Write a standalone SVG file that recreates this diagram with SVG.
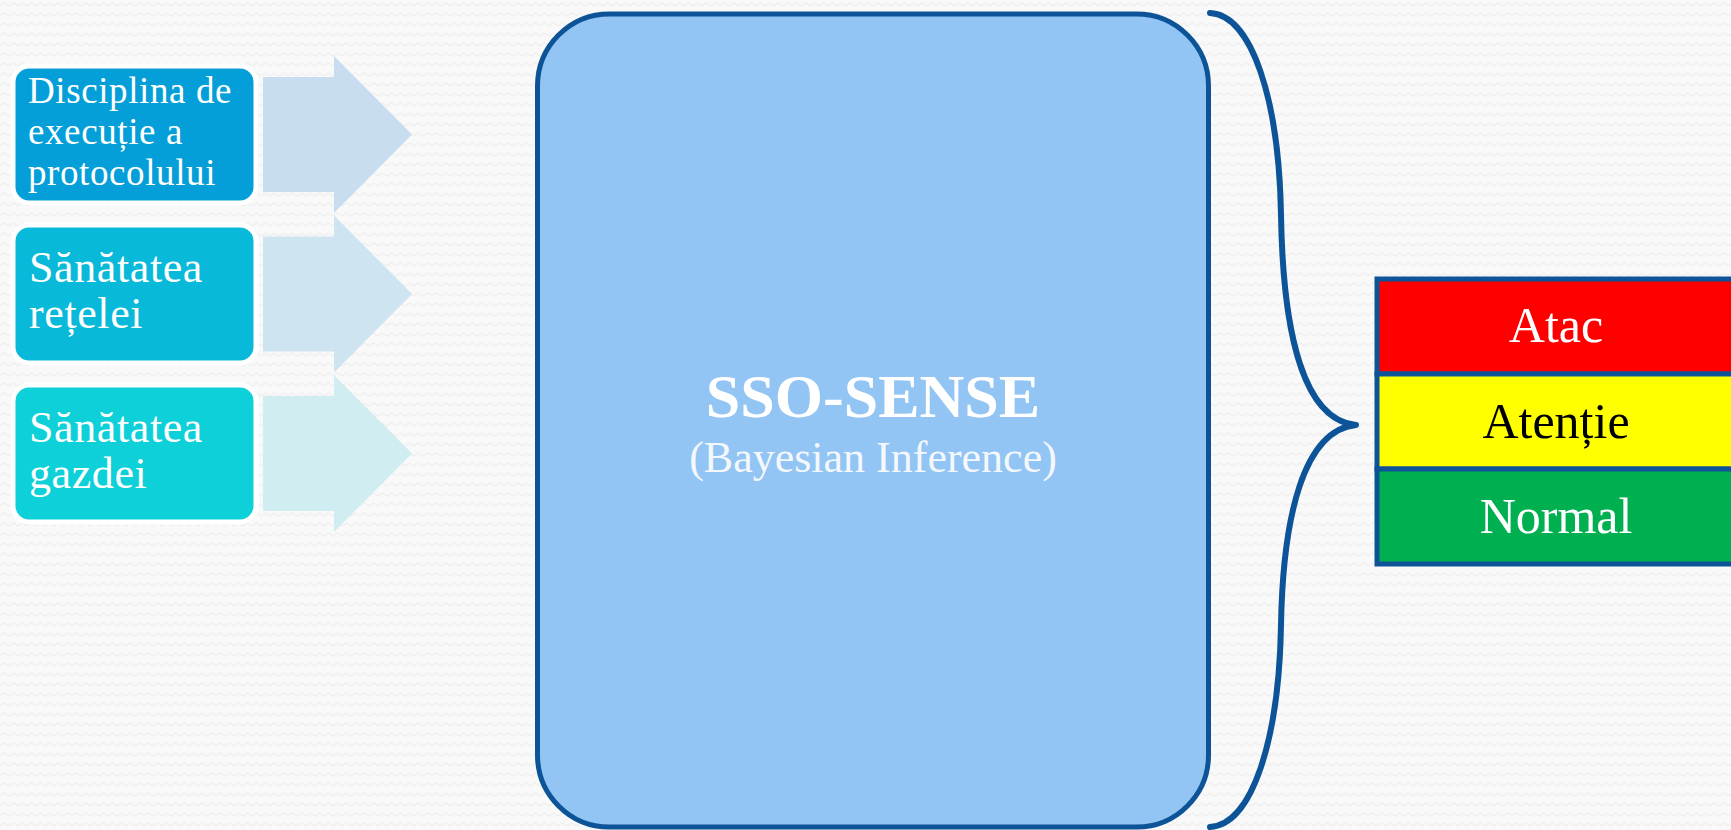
<svg xmlns="http://www.w3.org/2000/svg" width="1731" height="830" viewBox="0 0 1731 830">
  <defs>
    <pattern id="bgWave" width="9" height="10" patternUnits="userSpaceOnUse">
      <rect width="9" height="10" fill="#f9f9f9"/>
      <polyline points="0,6 4.5,3 9,6" fill="none" stroke="#efefef" stroke-width="1.2"/>
    </pattern>
    <style>
      .src { stroke: #ffffff; stroke-width: 5; }
      .srcText { font-family: "Liberation Serif", "Times New Roman", serif; fill: #ffffff; letter-spacing: 0.6px; }
      .arrow { stroke: none; }
      .core { fill: #92c4f4; stroke: #0c5497; stroke-width: 5; }
      .brace { fill: none; stroke: #0c5497; stroke-width: 6; stroke-linecap: round; stroke-linejoin: round; }
      .level { stroke: #0c5497; stroke-width: 5; }
      .levelText { font-family: "Liberation Serif", "Times New Roman", serif; font-size: 50px; text-anchor: middle; }
    </style>
  </defs>

  <rect width="1731" height="830" fill="url(#bgWave)"/>

  <!-- input arrows and the grouping brace -->
  <g id="connectors">
    <polygon class="arrow" fill="#c9ddf0" points="263,77 334,77 334,56 412,134.5 334,213 334,192 263,192"/>
    <polygon class="arrow" fill="#cfe4f1" points="263,236.5 334,236.5 334,215.5 412,294 334,372.5 334,351.5 263,351.5"/>
    <polygon class="arrow" fill="#d0edf2" points="263,396 334,396 334,375 412,453.5 334,532 334,511 263,511"/>
    <path class="brace" d="M1210,13 C1252,15 1279,100 1281,215 C1283,335 1304,420 1356,425 C1304,430 1283,515 1281,625 C1279,740 1252,825 1210,827"/>
  </g>

  <!-- input sources -->
  <g id="src-protocol">
    <rect class="src" x="13" y="66" width="243" height="137" rx="16" fill="#049fd9"/>
    <text class="srcText" font-size="37" x="28" y="103">Disciplina de</text>
    <text class="srcText" font-size="37" x="28" y="144">execuție a</text>
    <text class="srcText" font-size="37" x="28" y="185">protocolului</text>
  </g>
  <g id="src-network">
    <rect class="src" x="13" y="225" width="243" height="138" rx="16" fill="#08b9d9"/>
    <text class="srcText" font-size="44" x="29" y="282">Sănătatea</text>
    <text class="srcText" font-size="44" x="29" y="328">rețelei</text>
  </g>
  <g id="src-host">
    <rect class="src" x="13" y="385" width="243" height="137" rx="16" fill="#0dd0d9"/>
    <text class="srcText" font-size="44" x="29" y="442">Sănătatea</text>
    <text class="srcText" font-size="44" x="29" y="488">gazdei</text>
  </g>

  <!-- inference engine -->
  <g id="sso-sense">
    <rect class="core" x="537.5" y="14" width="671" height="813" rx="72"/>
    <text x="873" y="417" text-anchor="middle" font-family="Liberation Serif, Times New Roman, serif" font-weight="bold" font-size="62" fill="#ffffff">SSO-SENSE</text>
    <text x="873" y="472" text-anchor="middle" font-family="Liberation Serif, Times New Roman, serif" font-size="44" fill="#f4f8fc">(Bayesian Inference)</text>
  </g>

  <!-- alert levels -->
  <g id="level-atac">
    <rect class="level" x="1377" y="279" width="360" height="95" fill="#ff0000"/>
    <text class="levelText" x="1556" y="342" fill="#ffffff">Atac</text>
  </g>
  <g id="level-atentie">
    <rect class="level" x="1377" y="374" width="360" height="95" fill="#ffff00"/>
    <text class="levelText" x="1556" y="438" fill="#000000">Atenție</text>
  </g>
  <g id="level-normal">
    <rect class="level" x="1377" y="469" width="360" height="95" fill="#00b050"/>
    <text class="levelText" x="1556" y="533" fill="#ffffff">Normal</text>
  </g>
</svg>
